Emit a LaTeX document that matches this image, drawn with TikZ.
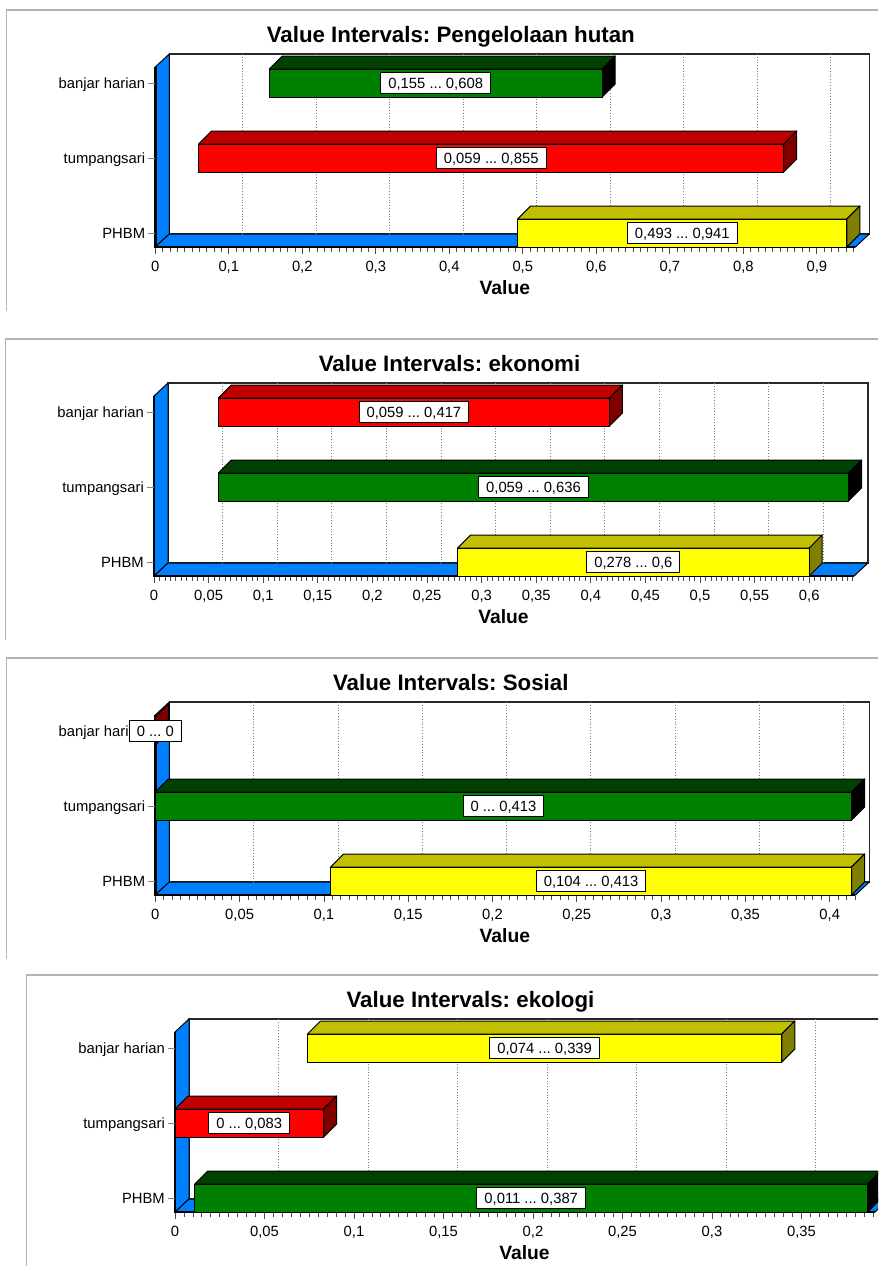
\documentclass[tikz,border=0pt]{standalone}
\usepackage{fontspec}
\setmainfont{Liberation Sans}
\frenchspacing
\definecolor{wallblue}{RGB}{0,128,255}
\definecolor{gF}{RGB}{0,128,0}
\definecolor{gT}{RGB}{0,64,0}
\definecolor{gS}{RGB}{0,0,0}
\definecolor{rF}{RGB}{255,0,0}
\definecolor{rT}{RGB}{192,0,0}
\definecolor{rS}{RGB}{128,0,0}
\definecolor{yF}{RGB}{255,255,0}
\definecolor{yT}{RGB}{192,192,0}
\definecolor{yS}{RGB}{128,128,0}
\definecolor{framegray}{RGB}{180,180,180}
\definecolor{gridgray}{RGB}{128,128,128}
\definecolor{walledge}{RGB}{40,40,40}
\tikzset{
  ivframe/.style={draw=framegray,line width=1.2pt},
  backwall/.style={fill=white,draw=walledge,line width=1.3pt},
  sidewall/.style={fill=wallblue,draw=black,line width=1pt,line join=round},
  gridln/.style={draw=gridgray,dotted,line width=0.8pt},
  floorgrid/.style={draw=gridgray!70!wallblue,dotted,line width=0.8pt},
  frontedge/.style={draw=black,line width=2.4pt},
  tickmark/.style={draw=black!70,line width=0.8pt},
  cattick/.style={draw=gray,line width=0.9pt},
  barface/.style={draw=black,line width=1pt,line join=round},
  normtext/.style={font=\fontsize{14.8}{17}\selectfont,inner sep=0pt,text height=10.6pt,text depth=0pt},
  vallabel/.style={normtext,draw=black,fill=white,line width=1pt,inner xsep=7.5pt,inner ysep=0pt,minimum height=21pt},
  catlabel/.style={normtext,anchor=east},
  ticklabel/.style={normtext},
  axistitle/.style={font=\fontsize{19.3}{21}\selectfont\bfseries,inner sep=0pt,text height=13.8pt,text depth=0pt},
  charttitle/.style={font=\fontsize{22.3}{25}\selectfont\bfseries,inner sep=0pt,text height=16pt,text depth=0pt},
}
% #1 prefix, #2 unused, #3 unused, #4 minor step (px), #5 number of minor steps, #6 title, #7 majors
\newcommand\ivaxes[7]{%
  \draw[ivframe] (-148.5,64) -- (-148.5,-237) -- (760,-237);
  \draw[backwall] (14,-193) rectangle (714,-13);
  \foreach \k/\t in {#7}{%
    \ifnum\k>0 \draw[gridln] ({14+\k*10*#4},-193) -- ({14+\k*10*#4},-13);\fi
  }%
  \draw[sidewall] (0,-180) -- (14,-193) -- (14,-13) -- (0,0) -- cycle;
  \draw[sidewall] (0,0) -- (14,-13) -- (714,-13) -- (700,0) -- cycle;
  \foreach \k/\t in {#7}{%
    \ifnum\k>0 \draw[floorgrid] ({14+\k*10*#4},-13) -- ({\k*10*#4},0);\fi
  }%
  \draw[frontedge] (0,-180) -- (0,0) -- (700,0);
  \foreach \i in {0,...,#5}{%
    \pgfmathsetmacro\ivtl{ifthenelse(mod(\i,10)==0,6,3.5)}%
    \draw[tickmark] ({\i*#4},1) -- ({\i*#4},{1+\ivtl});
  }%
  \foreach \k/\t in {#7}{%
    \node[ticklabel] (#1tick\k) at ({\k*10*#4},19) {\t};
  }%
  \foreach \cl/\cn/\cy in {banjar harian/ban/-164,tumpangsari/tum/-89,PHBM/phb/-14}{%
    \draw[cattick] (-7,\cy) -- (0,\cy);
    \node[catlabel] (#1\cn) at (-10,\cy) {\cl};
  }%
  \node[axistitle] (#1value) at (349.5,40.5) {Value};
  \node[charttitle] (#1title) at (295.5,-212.7) {Value Intervals: #6};
}
% #1 name, #2 scale, #3 low, #4 high, #5 category y, #6 colour prefix, #7 label
\newcommand\ivbar[7]{%
  \pgfmathsetmacro\ivxa{#2*#3}%
  \pgfmathsetmacro\ivxb{#2*#4}%
  \draw[barface,fill=#6T] (\ivxa,#5-14) -- (\ivxa+13,#5-27) -- (\ivxb+13,#5-27) -- (\ivxb,#5-14) -- cycle;
  \draw[barface,fill=#6S] (\ivxb,#5-14) -- (\ivxb+13,#5-27) -- (\ivxb+13,#5+1) -- (\ivxb,#5+14) -- cycle;
  \draw[barface,fill=#6F] (\ivxa,#5-14) rectangle (\ivxb,#5+14);
  \node[vallabel] (#1) at ({(\ivxa+\ivxb)/2},#5) {#7};
}
\begin{document}
\begin{tikzpicture}[x=1pt,y=-1pt]
\useasboundingbox (0,0) rectangle (878,1266);
\clip (0,0) rectangle (878,1266);
\fill[white] (0,0) rectangle (878,1266);
% Chart 1
\begin{scope}[shift={(155.3,247)}]
  \ivaxes{a}{}{}{7.35}{95}{Pengelolaan hutan}{0/0,1/0{,}1,2/0{,}2,3/0{,}3,4/0{,}4,5/0{,}5,6/0{,}6,7/0{,}7,8/0{,}8,9/0{,}9}
  \ivbar{aban}{735}{0.155}{0.608}{-164}{g}{0,155 ... 0,608}
  \ivbar{atum}{735}{0.059}{0.855}{-89}{r}{0,059 ... 0,855}
  \ivbar{aphb}{735}{0.493}{0.941}{-14}{y}{0,493 ... 0,941}
\end{scope}
% Chart 2
\begin{scope}[shift={(154,576)}]
  \ivaxes{b}{}{}{5.46}{128}{ekonomi}{0/0,1/0{,}05,2/0{,}1,3/0{,}15,4/0{,}2,5/0{,}25,6/0{,}3,7/0{,}35,8/0{,}4,9/0{,}45,10/0{,}5,11/0{,}55,12/0{,}6}
  \ivbar{bban}{1092}{0.059}{0.417}{-164}{r}{0,059 ... 0,417}
  \ivbar{btum}{1092}{0.059}{0.636}{-89}{g}{0,059 ... 0,636}
  \ivbar{bphb}{1092}{0.278}{0.6}{-14}{y}{0,278 ... 0,6}
\end{scope}
% Chart 3
\begin{scope}[shift={(155.3,895)}]
  \ivaxes{c}{}{}{8.43}{83}{Sosial}{0/0,1/0{,}05,2/0{,}1,3/0{,}15,4/0{,}2,5/0{,}25,6/0{,}3,7/0{,}35,8/0{,}4}
  \ivbar{cban}{1686}{0}{0}{-164}{r}{0 ... 0}
  \ivbar{ctum}{1686}{0}{0.413}{-89}{g}{0 ... 0,413}
  \ivbar{cphb}{1686}{0.104}{0.413}{-14}{y}{0,104 ... 0,413}
\end{scope}
% Chart 4
\begin{scope}[shift={(175,1212)}]
  \ivaxes{d}{}{}{8.95}{78}{ekologi}{0/0,1/0{,}05,2/0{,}1,3/0{,}15,4/0{,}2,5/0{,}25,6/0{,}3,7/0{,}35}
  \ivbar{dban}{1790}{0.074}{0.339}{-164}{y}{0,074 ... 0,339}
  \ivbar{dtum}{1790}{0}{0.083}{-89}{r}{0 ... 0,083}
  \ivbar{dphb}{1790}{0.011}{0.387}{-14}{g}{0,011 ... 0,387}
\end{scope}
\end{tikzpicture}
\end{document}
